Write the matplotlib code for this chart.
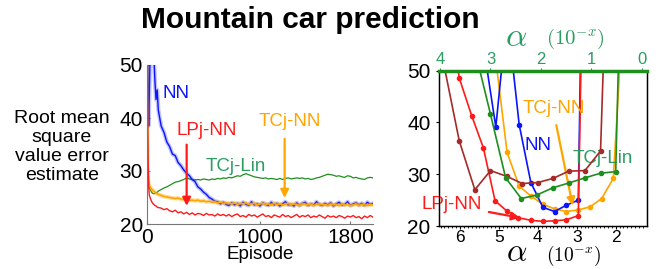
import matplotlib
matplotlib.use('Agg')
import matplotlib.pyplot as plt

plt.rcParams['font.family'] = ['Liberation Sans', 'DejaVu Sans']
plt.rcParams['mathtext.fontset'] = 'cm'

# ---------------- Left panel data (learning curves) ----------------
early_episodes = [0, 5, 10, 15, 20, 30, 40, 50, 60, 70, 80, 90]
late_episodes = list(range(100, 2001, 25))
episodes = early_episodes + late_episodes

nn_curve = [70, 60, 45, 38.5, 44, 55, 60, 58, 52, 47, 43.5, 45.3,
            41.5, 38.5, 37.3, 35.5, 34.6, 33.2, 32.9, 31.6,
            31.0, 30.2, 29.6, 29.1, 28.4, 28.0, 27.0, 26.6,
            26.0, 25.6, 25.0, 24.7, 24.3, 24.2, 23.8, 24.1,
            23.7, 23.5, 24.0, 23.6, 23.9, 23.4, 24.1, 23.7,
            23.5, 24.2, 23.6, 23.8, 23.4, 24.0, 23.7, 23.5,
            24.1, 23.6, 23.9, 23.4, 23.8, 24.2, 23.6, 23.7,
            23.4, 24.0, 23.5, 23.9, 24.1, 23.5, 23.8, 23.6,
            24.2, 23.7, 23.5, 23.9, 23.6, 24.0, 23.4, 23.8,
            24.1, 23.6, 23.7, 24.2, 23.5, 23.8, 24.0, 23.6,
            23.9, 23.5, 24.1, 23.7, 23.9]

lpj_curve = [50, 40, 31, 27, 25.5, 24.8, 24.3, 23.9, 23.7, 23.5, 23.4, 23.2,
             23.1, 23.0, 22.7, 22.9, 22.5, 22.3, 22.6, 22.1,
             22.3, 21.9, 22.2, 21.8, 22.1, 21.7, 22.0, 21.9,
             21.6, 22.0, 21.7, 21.8, 21.5, 21.9, 21.6, 21.8,
             21.5, 21.8, 21.4, 21.7, 21.9, 21.4, 21.6, 21.3,
             21.8, 21.5, 21.7, 21.3, 21.6, 21.9, 21.4, 21.6,
             21.2, 21.7, 21.5, 21.3, 21.8, 21.4, 21.6, 21.2,
             21.5, 21.8, 21.3, 21.6, 21.4, 21.7, 21.2, 21.5,
             21.3, 21.7, 21.4, 21.1, 21.6, 21.3, 21.5, 21.2,
             21.6, 21.4, 21.1, 21.5, 21.3, 21.6, 21.2, 21.4,
             21.0, 21.5, 21.2, 21.6, 21.3]

tcjnn_curve = [50, 33, 28.5, 27.6, 27.2, 26.9, 26.6, 26.4, 26.2, 26.0, 25.8, 25.7,
               25.6, 25.4, 25.2, 25.1, 25.0, 24.9, 24.8, 24.9,
               24.7, 24.6, 24.7, 24.5, 24.5, 24.4, 24.5, 24.3,
               24.4, 24.2, 24.3, 24.1, 24.2, 24.0, 24.1, 23.9,
               24.0, 23.9, 23.8, 24.0, 23.7, 23.9, 23.8, 24.0,
               23.7, 23.8, 23.9, 23.6, 23.8, 23.9, 23.7, 23.8,
               23.6, 23.9, 23.7, 23.8, 23.6, 23.7, 23.9, 23.6,
               23.8, 23.7, 23.5, 23.8, 23.7, 23.6, 23.8, 23.5,
               23.7, 23.8, 23.6, 23.7, 23.5, 23.8, 23.6, 23.7,
               23.5, 23.8, 23.6, 23.7, 23.5, 23.6, 23.8, 23.5,
               23.7, 23.6, 23.5, 23.7, 23.6]

tcjlin_curve = [50, 40, 31, 28, 27, 26.4, 26.0, 25.8, 25.7, 25.8, 25.9, 26.0,
                26.2, 26.5, 26.8, 27.0, 27.3, 27.6, 27.9, 28.0,
                28.2, 28.4, 28.7, 28.5, 28.4, 28.3, 28.4, 28.3,
                28.5, 28.4, 28.3, 28.5, 28.4, 28.6, 28.5, 28.7,
                28.6, 28.8, 28.7, 28.9, 29.1, 29.0, 29.3, 29.5,
                29.3, 29.1, 28.9, 28.8, 28.7, 28.6, 28.7, 28.5,
                28.6, 28.5, 28.4, 28.6, 28.4, 28.6, 28.7, 28.5,
                28.6, 28.7, 28.6, 28.7, 28.5, 28.6, 28.4, 28.5,
                28.7, 28.8, 29.0, 29.2, 29.4, 29.3, 29.2, 29.0,
                29.1, 28.9, 28.8, 29.1, 29.0, 28.7, 28.8, 28.6,
                28.5, 28.4, 28.7, 28.8, 28.7]

left_xticks = [0, 1000, 1800]
left_yticks = [20, 30, 40, 50]

# ---------------- Right panel data (step-size sensitivity) ----------------
# bottom axis: alpha = 10^-x
nn_x = [5.40, 5.08, 4.79, 4.48, 4.18, 3.87, 3.57, 3.27, 2.96, 2.66]
nn_y = [55, 39.1, 61, 39.6, 28.4, 23.6, 22.8, 24.0, 25.0, 170]
lpj_x = [6.32, 6.02, 5.70, 5.40, 5.10, 4.80, 4.50, 4.18, 3.87, 3.57, 3.27, 2.96, 2.66]
lpj_y = [65, 48.6, 41.3, 35.1, 24.9, 22.9, 21.6, 21.1, 20.9, 21.0, 21.2, 22.0, 150]
tcjnn_x = [5.38, 5.08, 4.79, 4.48, 4.18, 3.87, 3.57, 3.27, 2.96, 2.66, 2.36, 2.06, 1.76]
tcjnn_y = [80, 52, 34.2, 27.7, 25.8, 24.2, 23.3, 22.8, 23.1, 23.7, 25.3, 29.2, 68]
# top axis: alpha = 10^-x (linear methods)
tcjlin_x = [3.31, 3.00, 2.70, 2.39, 2.08, 1.76, 1.45, 1.13, 0.82, 0.52, 0.21]
tcjlin_y = [54, 41.6, 29.3, 25.3, 26.0, 27.4, 28.3, 29.3, 30.2, 30.5, 150]
other_x = [3.93, 3.62, 3.31, 3.00, 2.68, 2.37, 2.06, 1.76, 1.45, 1.13, 0.82, 0.51]
other_y = [51.5, 36.5, 27.0, 30.7, 29.6, 28.2, 28.4, 29.2, 30.6, 30.7, 34.5, 128]

bottom_xticks = [6, 5, 4, 3, 2]
top_xticks = [4, 3, 2, 1, 0]
right_yticks = [20, 30, 40, 50]

BLUE = '#0a14ff'
RED = '#ff1a1a'
ORANGE = '#ffa500'
GREEN = '#1e8f1e'
GREEN_TXT = '#2a9d62'
BROWN = '#a52a2a'

W, H = 665, 269
fig = plt.figure(figsize=(W / 100, H / 100), dpi=100)

def fx(px):
    return px / W

def fy(py):
    return 1 - py / H

# ---------------- Left axes ----------------
axL = fig.add_axes([fx(147), fy(224), fx(373) - fx(147), fy(65) - fy(224)])
axL.plot(episodes, tcjlin_curve, color=GREEN, lw=0.9)
axL.plot(episodes, nn_curve, color=BLUE, lw=3, alpha=0.25)
axL.plot(episodes, nn_curve, color=BLUE, lw=1.0)
axL.plot(episodes, tcjnn_curve, color=ORANGE, lw=3, alpha=0.35)
axL.plot(episodes, tcjnn_curve, color=ORANGE, lw=1.2)
axL.plot(episodes, lpj_curve, color=RED, lw=1.0)
axL.set_xlim(0, 2000)
axL.set_ylim(20, 50)
axL.set_xticks(left_xticks)
axL.set_yticks(left_yticks)
for s in ['top', 'right']:
    axL.spines[s].set_visible(False)
for s in ['left', 'bottom']:
    axL.spines[s].set_color('#777777')
    axL.spines[s].set_linewidth(0.8)
axL.tick_params(axis='both', labelsize=15, length=2, direction='in', color='#777777', pad=3)
axL.set_xlabel('Episode', fontsize=13.5, labelpad=-1)

axL.text(257, 44.6, 'NN', color=BLUE, fontsize=13.5, ha='center', va='center')
axL.text(531, 37.6, 'LPj-NN', color=RED, fontsize=13.5, ha='center', va='center')
axL.text(785, 30.8, 'TCj-Lin', color=GREEN_TXT, fontsize=13.5, ha='center', va='center')
axL.text(1265, 39.3, 'TCj-NN', color=ORANGE, fontsize=13.5, ha='center', va='center')
axL.annotate('', xy=(351, 22.9), xytext=(351, 35.5),
             arrowprops=dict(arrowstyle='-|>', color=RED, lw=1.6, mutation_scale=12))
axL.annotate('', xy=(1218, 24.4), xytext=(1218, 36.6),
             arrowprops=dict(arrowstyle='-|>', color=ORANGE, lw=1.6, mutation_scale=12))

fig.text(fx(62), fy(147), 'Root mean\nsquare\nvalue error\nestimate', fontsize=14,
         ha='center', va='center', linespacing=1.15)

# ---------------- Right axes ----------------
axR = fig.add_axes([fx(439), fy(226), fx(647) - fx(439), fy(70.7) - fy(226)])
axT = axR.twiny()
axR.set_xlim(6.54, 1.195)
axR.set_ylim(20, 50)
axT.set_xlim(4.02, -0.1)

axT.plot(other_x, other_y, color=BROWN, lw=1.2, marker='o', ms=3)
axT.plot(tcjlin_x, tcjlin_y, color=GREEN, lw=1.2, marker='o', ms=3)
axR.plot(tcjnn_x, tcjnn_y, color=ORANGE, lw=1.2, marker='o', ms=3)
axR.plot(nn_x, nn_y, color=BLUE, lw=1.2, marker='o', ms=3)
axR.plot(lpj_x, lpj_y, color=RED, lw=1.2, marker='o', ms=3)

axR.set_xticks(bottom_xticks)
axR.set_yticks(right_yticks)
axR.set_xticks([v / 10 for v in range(13, 66)], minor=True)
axR.tick_params(axis='x', labelsize=12.5, length=2, pad=1)
axR.tick_params(axis='x', which='minor', length=1.5)
axR.tick_params(axis='y', labelsize=15, length=2, pad=4)
axT.set_xticks(top_xticks)
axT.tick_params(axis='x', labelsize=12, colors=GREEN_TXT, length=2, pad=1)
for s in ['left', 'right', 'bottom']:
    axR.spines[s].set_color('black')
    axR.spines[s].set_linewidth(1.0)
axT.spines['top'].set_color(GREEN)
axT.spines['top'].set_linewidth(2.5)
axR.spines['top'].set_visible(False)

axR.text(3.60, 42.7, 'TCj-NN', color=ORANGE, fontsize=13.5, ha='center', va='center')
axR.text(3.99, 35.6, 'NN', color=BLUE, fontsize=13.5, ha='center', va='center')
axR.text(2.33, 33.1, 'TCj-Lin', color=GREEN_TXT, fontsize=13.5, ha='center', va='center')
axR.text(6.21, 24.1, 'LPj-NN', color=RED, fontsize=13.5, ha='center', va='center')
axR.annotate('', xy=(3.09, 23.4), xytext=(3.54, 40.0),
             arrowprops=dict(arrowstyle='-|>', color=ORANGE, lw=1.6, mutation_scale=12))
axR.annotate('', xy=(4.39, 21.5), xytext=(5.33, 22.8),
             arrowprops=dict(arrowstyle='-|>', color=RED, lw=1.6, mutation_scale=12))

# axis labels (alpha)
fig.text(fx(517), fy(268), r'$\alpha$', fontsize=23, ha='center', va='bottom')
fig.text(fx(574), fy(268), r'$(10^{-x})$', fontsize=14, ha='center', va='bottom')
fig.text(fx(516), fy(38), r'$\alpha$', fontsize=24, ha='center', va='center', color=GREEN_TXT)
fig.text(fx(575.5), fy(38.8), r'$(10^{-x})$', fontsize=15, ha='center', va='center', color=GREEN_TXT)

# title
fig.text(fx(310), fy(28.3), 'Mountain car prediction', fontsize=21.5, fontweight='bold',
         ha='center', va='baseline')

fig.savefig('out.png', dpi=100)
